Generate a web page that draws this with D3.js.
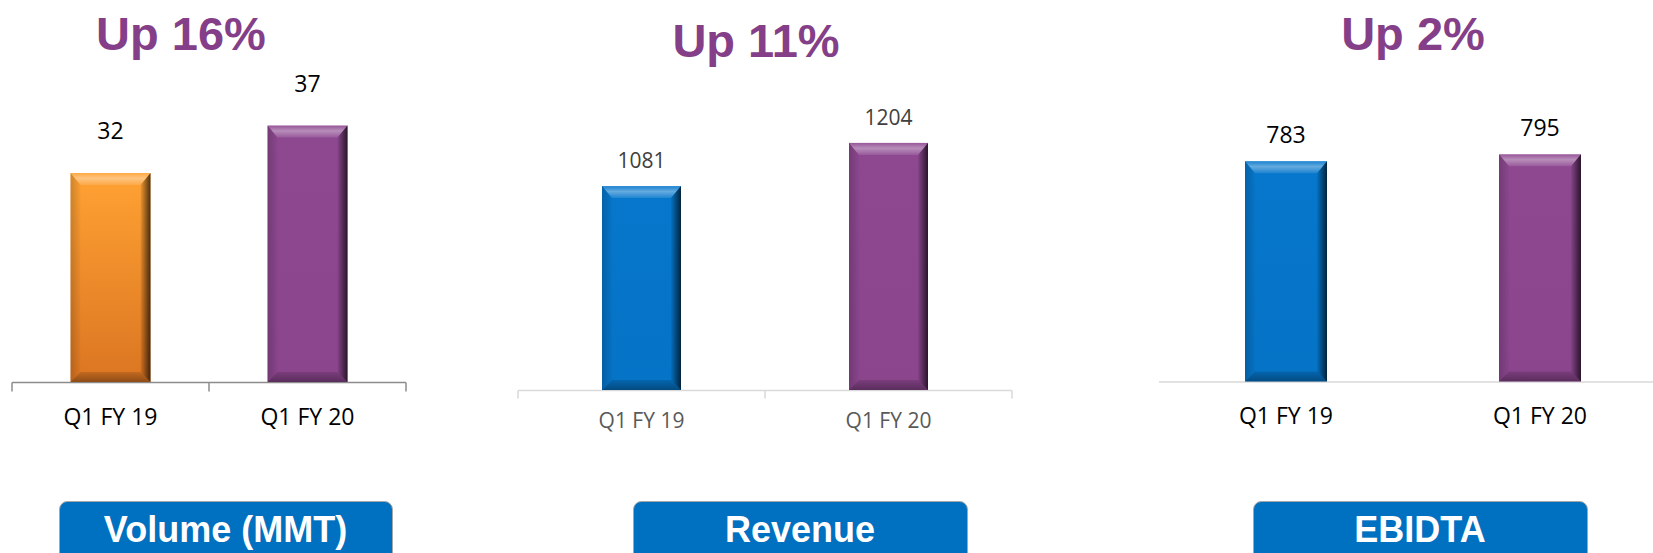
<!DOCTYPE html>
<html>
<head>
<meta charset="utf-8">
<script src="https://cdn.jsdelivr.net/npm/d3@7"></script>
<style>
  html, body { margin: 0; padding: 0; background: #ffffff; }
  svg { display: block; }
</style>
</head>
<body>
<svg id="chart" width="1653" height="553"></svg>
<script>
// ---------- DATA ----------
const categories = ["Q1 FY 19", "Q1 FY 20"];
const volumeValues = [32, 37];
const revenueValues = [1081, 1204];
const ebidtaValues = [783, 795];
const panelTitles = ["Volume (MMT)", "Revenue", "EBIDTA"];
const growthLabels = ["Up 16%", "Up 11%", "Up 2%"];
const axisMin = [10, 500, 400];
const axisMax = [40, 1300, 800];

// ---------- LAYOUT / STYLE ----------
const panels = [
  { values: volumeValues, xRange: [12, 406], yBottom: 382, yTop: 97, barW: 80,
    colors: ["orange", "purple"], axisColor: "#8c8c8c", ticks: true, tickLen: 9,
    valueColor: "#000", catColor: "#000", valueSize: 23, catSize: 23, valueGap: 34, catBaseline: 425,
    titleX: 181, titleY: 50, btnX: 59, btnW: 333 },
  { values: revenueValues, xRange: [518, 1012], yBottom: 390, yTop: 109.2, barW: 79,
    colors: ["blue", "purple"], axisColor: "#d9d9d9", ticks: true, tickLen: 8,
    valueColor: "#404040", catColor: "#595959", valueSize: 21, catSize: 21, valueGap: 18, catBaseline: 428,
    titleX: 756, titleY: 57, btnX: 633, btnW: 334 },
  { values: ebidtaValues, xRange: [1159, 1667], yBottom: 381.5, yTop: 151.4, barW: 82,
    colors: ["blue", "purple"], axisColor: "#d9d9d9", ticks: false, tickLen: 0,
    valueColor: "#000", catColor: "#000", valueSize: 23, catSize: 23, valueGap: 18, catBaseline: 424,
    titleX: 1413, titleY: 50, btnX: 1253, btnW: 334 }
];

const palette = {
  orange: { top: "#FFA233", bottom: "#DB7522" },
  purple: { top: "#8D4890", bottom: "#8A458D" },
  blue:   { top: "#0677CC", bottom: "#0573C6" }
};

const svg = d3.select("#chart");
const defs = svg.append("defs");

Object.entries(palette).forEach(([k, c]) => {
  const g = defs.append("linearGradient").attr("id", "fill-" + k)
    .attr("x1", 0).attr("y1", 0).attr("x2", 0).attr("y2", 1);
  g.append("stop").attr("offset", "0%").attr("stop-color", c.top);
  g.append("stop").attr("offset", "100%").attr("stop-color", c.bottom);
});
const gTop = defs.append("linearGradient").attr("id", "bevel-top")
  .attr("x1", 0).attr("y1", 0).attr("x2", 0).attr("y2", 1);
gTop.append("stop").attr("offset", "0%").attr("stop-color", "#fff").attr("stop-opacity", 0.08);
gTop.append("stop").attr("offset", "45%").attr("stop-color", "#fff").attr("stop-opacity", 0.38);
gTop.append("stop").attr("offset", "100%").attr("stop-color", "#fff").attr("stop-opacity", 0.1);
const gRight = defs.append("linearGradient").attr("id", "bevel-right")
  .attr("x1", 0).attr("y1", 0).attr("x2", 1).attr("y2", 0);
gRight.append("stop").attr("offset", "0%").attr("stop-color", "#000").attr("stop-opacity", 0.05);
gRight.append("stop").attr("offset", "100%").attr("stop-color", "#000").attr("stop-opacity", 0.7);
const gBottom = defs.append("linearGradient").attr("id", "bevel-bottom")
  .attr("x1", 0).attr("y1", 0).attr("x2", 0).attr("y2", 1);
gBottom.append("stop").attr("offset", "0%").attr("stop-color", "#000").attr("stop-opacity", 0.12);
gBottom.append("stop").attr("offset", "100%").attr("stop-color", "#000").attr("stop-opacity", 0.35);
const gLeft = defs.append("linearGradient").attr("id", "bevel-left")
  .attr("x1", 0).attr("y1", 0).attr("x2", 1).attr("y2", 0);
gLeft.append("stop").attr("offset", "0%").attr("stop-color", "#000").attr("stop-opacity", 0.18);
gLeft.append("stop").attr("offset", "100%").attr("stop-color", "#000").attr("stop-opacity", 0.02);

const numFont = "'Open Sans', 'Noto Sans', sans-serif";
const boldFont = "'Liberation Sans', Arial, sans-serif";
const bevel = 10;

panels.forEach((p, i) => {
  const g = svg.append("g");
  const x = d3.scaleBand().domain(categories).range(p.xRange).padding(0);
  const y = d3.scaleLinear().domain([axisMin[i], axisMax[i]]).range([p.yBottom, p.yTop]);

  const axisG = g.append("g");
  axisG.append("line")
    .attr("x1", p.xRange[0]).attr("x2", p.xRange[1])
    .attr("y1", p.yBottom + 0.5).attr("y2", p.yBottom + 0.5)
    .attr("stroke", p.axisColor).attr("stroke-width", 1.5);
  if (p.ticks) {
    const tickXs = categories.map(c => x(c)).concat([p.xRange[1]]);
    axisG.selectAll("line.tick").data(tickXs).join("line")
      .attr("class", "tick")
      .attr("x1", d => d).attr("x2", d => d)
      .attr("y1", p.yBottom + 0.5).attr("y2", p.yBottom + 0.5 + p.tickLen)
      .attr("stroke", p.axisColor).attr("stroke-width", 1.5);
  }

  const data = categories.map((c, j) => ({ c, v: p.values[j], color: p.colors[j] }));
  const bars = g.selectAll("g.bar").data(data).join("g").attr("class", "bar");
  bars.each(function(d) {
    const b = d3.select(this);
    const x0 = x(d.c) + (x.bandwidth() - p.barW) / 2;
    const x1 = x0 + p.barW;
    const y0 = y(d.v);
    const y1 = y(axisMin[i]);
    b.append("rect").attr("x", x0).attr("y", y0).attr("width", p.barW).attr("height", y1 - y0)
      .attr("fill", "url(#fill-" + d.color + ")");
    const poly = pts => pts.map(q => q.join(",")).join(" ");
    b.append("polygon").attr("points", poly([[x0, y0], [x1, y0], [x1 - bevel, y0 + bevel + 2], [x0 + bevel, y0 + bevel + 2]]))
      .attr("fill", "url(#bevel-top)");
    b.append("polygon").attr("points", poly([[x1, y0], [x1, y1], [x1 - bevel, y1 - bevel], [x1 - bevel, y0 + bevel + 2]]))
      .attr("fill", "url(#bevel-right)");
    b.append("polygon").attr("points", poly([[x0, y0], [x0 + bevel, y0 + bevel + 2], [x0 + bevel, y1 - bevel], [x0, y1]]))
      .attr("fill", "url(#bevel-left)");
    b.append("polygon").attr("points", poly([[x0, y1], [x0 + bevel, y1 - bevel], [x1 - bevel, y1 - bevel], [x1, y1]]))
      .attr("fill", "url(#bevel-bottom)");
    b.append("text").attr("x", (x0 + x1) / 2).attr("y", y0 - p.valueGap)
      .attr("text-anchor", "middle").attr("font-family", numFont)
      .attr("font-size", p.valueSize).attr("fill", p.valueColor).text(d.v);
  });

  g.selectAll("text.cat").data(categories).join("text").attr("class", "cat")
    .attr("x", d => x(d) + x.bandwidth() / 2).attr("y", p.catBaseline)
    .attr("text-anchor", "middle").attr("font-family", numFont)
    .attr("font-size", p.catSize).attr("fill", p.catColor).text(d => d);

  g.append("text").attr("x", p.titleX).attr("y", p.titleY)
    .attr("text-anchor", "middle").attr("font-family", boldFont).attr("font-weight", "bold")
    .attr("font-size", 47).attr("fill", "#843F88").text(growthLabels[i]);

  g.append("rect").attr("x", p.btnX + 0.5).attr("y", 501.5).attr("width", p.btnW).attr("height", 70)
    .attr("rx", 8).attr("fill", "#0070C0").attr("stroke", "#a6a6a6").attr("stroke-width", 1);
  g.append("text").attr("x", p.btnX + p.btnW / 2).attr("y", 542)
    .attr("text-anchor", "middle").attr("font-family", boldFont).attr("font-weight", "bold")
    .attr("font-size", 36).attr("fill", "#ffffff").text(panelTitles[i]);
});
</script>
</body>
</html>
